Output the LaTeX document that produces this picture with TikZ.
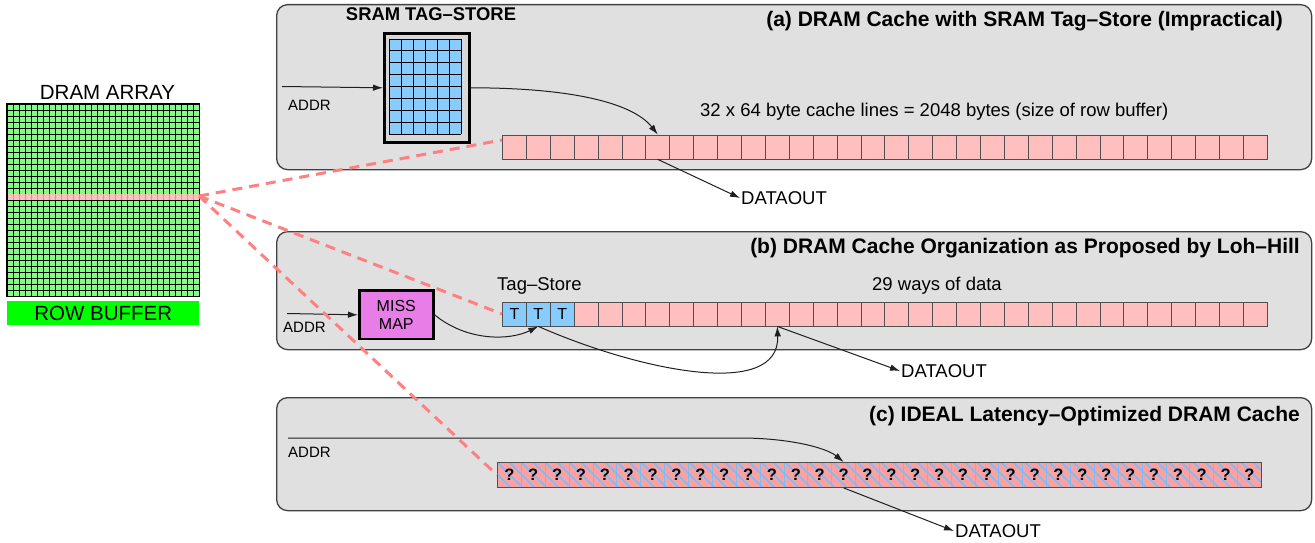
\documentclass[tikz,border=0pt]{standalone}
\usepackage{fontspec}
\setmainfont{Liberation Sans}
\usetikzlibrary{arrows.meta,calc}
\definecolor{panelgray}{HTML}{E0E0E0}
\definecolor{panelborder}{HTML}{404040}
\definecolor{cellpink}{HTML}{FFBFBF}
\definecolor{cellborder}{HTML}{505050}
\definecolor{tagblue}{HTML}{88CCFF}
\definecolor{arraygreen}{HTML}{80FF80}
\definecolor{rowgreen}{HTML}{00FF00}
\definecolor{rowpink}{HTML}{FFC0C0}
\definecolor{dashpink}{HTML}{FF8080}
\definecolor{missviolet}{HTML}{E87DE8}
\definecolor{hatchpink}{HTML}{FFA0A0}
\definecolor{hatchblue}{HTML}{78BEF8}
\definecolor{sramgray}{HTML}{D8D8D8}
\begin{document}
\begin{tikzpicture}[x=1pt,y=-1pt,
  panel/.style={draw=panelborder,line width=1.3pt,fill=panelgray,rounded corners=11pt,inner sep=0pt,anchor=north west},
  conn/.style={draw=black!88,line width=1pt,-{Latex[length=10pt,width=6.5pt]}},
  dashlink/.style={draw=dashpink,line width=3pt,dash pattern=on 10pt off 7pt},
  txt/.style={inner sep=0pt,font=\fontsize{18.5}{21}\selectfont},
  small/.style={inner sep=0pt,font=\fontsize{15}{17}\selectfont},
  title/.style={inner sep=0pt,anchor=base east,font=\bfseries\fontsize{21}{24}\selectfont},
  big/.style={inner sep=0pt,font=\fontsize{20.5}{23}\selectfont},
  cellbox/.style={draw=cellborder,line width=0.9pt,inner sep=0pt,minimum width=23.9pt,minimum height=24pt,anchor=north west},
  qbox/.style={draw=hatchblue,line width=0.9pt,inner sep=0pt,minimum width=23.875pt,minimum height=25pt,anchor=north west,font=\bfseries\fontsize{16.5}{18}\selectfont},
  gridline/.style={draw=black,line width=0.75pt}
]
\useasboundingbox (0,0) rectangle (1315,543);

% ---------- DRAM array ----------
\node[big,anchor=base] (dramlbl) at (107.5,99.3) {DRAM ARRAY};
\node[inner sep=0pt,minimum width=192pt,minimum height=192pt,anchor=north west,fill=arraygreen] (array) at (7,104) {};
\foreach \k in {0,...,32} {
  \draw[gridline] ({7+6*\k},104) -- ({7+6*\k},296);
  \draw[gridline] (7,{104+6*\k}) -- (199,{104+6*\k});
}
\fill[rowpink] (7.4,194.4) rectangle (198.6,199.6);
\foreach \k in {1,...,31} \draw[draw=rowpink!80!black,line width=0.5pt] ({7+6*\k},194.4) -- ({7+6*\k},199.6);
\draw[line width=1.2pt] (array.north west) rectangle (array.south east);
\node[big,fill=rowgreen,minimum width=192pt,minimum height=24pt,anchor=north west] (rowbuf) at (7,301) {ROW BUFFER};
\coordinate (rowsel) at (199,196);

% ---------- panels ----------
\node[panel,minimum width=1035pt,minimum height=165pt] (pa) at (276,4) {};
\node[panel,minimum width=1035pt,minimum height=118pt] (pb) at (276,231) {};
\node[panel,minimum width=1035pt,minimum height=113pt] (pc) at (276,397) {};

\node[title] (ta) at (1283,27) {(a) DRAM Cache with SRAM Tag–Store (Impractical)};
\node[title] (tb) at (1300,253) {(b) DRAM Cache Organization as Proposed by Loh–Hill};
\node[title] (tc) at (1300,421) {(c) IDEAL Latency–Optimized DRAM Cache};

% ---------- panel (a) ----------
\node[anchor=base,inner sep=0pt,font=\bfseries\fontsize{18.4}{20}\selectfont] (sramlbl) at (431,21) {SRAM TAG–STORE};
\node[draw,line width=2.6pt,fill=sramgray,inner sep=0pt,minimum width=85pt,minimum height=109pt,anchor=north west] (sram) at (383,32) {};
\fill[tagblue] (389,39) rectangle (461,134);
\foreach \k in {0,...,6} \draw[gridline,line width=0.9pt] ({389+12*\k},39) -- ({389+12*\k},134);
\foreach \k in {0,...,8} \draw[gridline,line width=0.9pt] (389,{39+11.875*\k}) -- (461,{39+11.875*\k});

\foreach \i in {0,...,31} \node[cellbox,fill=cellpink] (a\i) at ({502+23.9*\i},134.5) {};
\node[txt,anchor=base west] (alines) at (700,117) {32 x 64 byte cache lines = 2048 bytes (size of row buffer)};

\coordinate (addra) at (282,86.5);
\node[small,anchor=west] (addralbl) at (288,105.5) {ADDR};
\draw[conn] (addra) -- (sram.west);
\draw[conn] (sram.east) .. controls ($(sram.east)+(92,0)$) and ($(a6.north)+(-27,-34)$) .. (a6.north);
\node[txt,anchor=west,inner sep=1pt] (douta) at (740,198) {DATAOUT};
\draw[conn] (a6.south) -- (douta.west);

% ---------- panel (b) ----------
\node[draw,line width=2.6pt,fill=missviolet,inner sep=0pt,minimum width=74pt,minimum height=48.5pt,anchor=north west,align=center,font=\fontsize{16}{17.5}\selectfont] (miss) at (358,289.3) {MISS\\MAP};
\foreach \i in {0,1,2} \node[cellbox,fill=tagblue,font=\fontsize{16}{18}\selectfont] (b\i) at ({502+23.9*\i},301.5) {T};
\foreach \i in {3,...,31} \node[cellbox,fill=cellpink] (b\i) at ({502+23.9*\i},301.5) {};
\node[txt,anchor=base west] (tagstore) at (497,290) {Tag–Store};
\node[txt,anchor=base west] (ways) at (872,290) {29 ways of data};

\coordinate (addrb) at (287,313.5);
\node[small,anchor=west] (addrblbl) at (283,327) {ADDR};
\draw[conn] (addrb) -- (miss.west);
\draw[conn] (miss.east) .. controls +(33,27) and +(-28,14) .. (b1.south);
\draw[conn] (b1.south) .. controls +(100,44) and +(3,74) .. (b11.south);
\node[txt,anchor=west,inner sep=1pt] (doutb) at (900,371) {DATAOUT};
\draw[conn] (b11.south) -- (doutb.west);

% ---------- panel (c) ----------
\fill[hatchpink] (497,462) rectangle (1261,487);
\begin{scope}
  \clip (497,462) rectangle (1261,487);
  \foreach \k in {-3,...,64} \draw[draw=hatchblue,line width=1.5pt] ({497+12*\k},462) -- ({522+12*\k},487);
\end{scope}
\foreach \i in {0,...,31} \node[qbox] (c\i) at ({497+23.875*\i},462) {?};
\draw[draw=cellborder,line width=1pt] (c0.north west) rectangle (c31.south east);

\coordinate (addrc) at (288,438);
\node[small,anchor=west] (addrclbl) at (288,452) {ADDR};
\draw[conn] (addrc) -- ++(452,0) .. controls +(50,0) and +(-17,-14) .. (c14.north);
\node[txt,anchor=west,inner sep=1pt] (doutc) at (954,531) {DATAOUT};
\draw[conn] (c14.south) -- (doutc.west);

% ---------- dashed row links ----------
\draw[dashlink] (rowsel) -- ($(a0.north west)+(0,5.5)$);
\draw[dashlink] (rowsel) -- (b0.west);
\draw[dashlink] (rowsel) -- (c0.west);
\end{tikzpicture}
\end{document}
